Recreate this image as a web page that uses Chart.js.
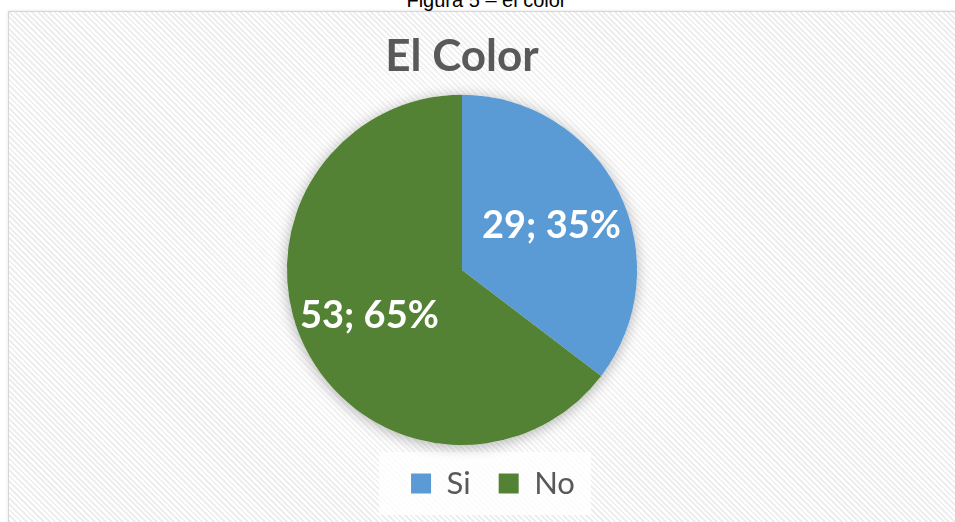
<!DOCTYPE html>
<html>
<head>
<meta charset="utf-8">
<script src="https://cdn.jsdelivr.net/npm/chart.js@4.4.0/dist/chart.umd.min.js"></script>
<style>
  html, body { margin: 0; padding: 0; background: #fff; overflow: hidden; }
  #caption {
    position: absolute; left: 9px; width: 955px; top: -11px;
    text-align: center; font: 20px "Liberation Sans", Arial, sans-serif; color: #000;
  }
  #box {
    position: absolute; left: 8px; top: 11px; width: 960px; height: 530px;
    border: 1px solid #d6d6d6; box-shadow: 0 0 3px rgba(0,0,0,0.12);
    background:
      radial-gradient(ellipse 300px 260px at 454px 250px, rgba(255,255,255,0.95), rgba(255,255,255,0) 100%),
      repeating-linear-gradient(45deg, #ffffff 0 2px, #eeeeee 2px 4px);
  }
  #wrap { position: absolute; left: 0; top: 0; width: 955px; height: 522px; }
</style>
</head>
<body>
<div id="caption">Figura 5 – el color</div>
<div id="box"></div>
<div id="wrap"><canvas id="myChart"></canvas></div>
<script>
// donnees du graphique
const categories = ["Si", "No"];
const valeurs = [29, 53];
const couleurs = ["#5B9BD5", "#548235"];

const total = valeurs.reduce((a, b) => a + b, 0);
const etiquettes = valeurs.map((v) => `${v}; ${Math.round((v / total) * 100)}%`);

// distance des etiquettes au centre (fraction du rayon)
const distances = [0.57, 0.59];
const decalage = { x: 31, y: -5 };

const ombrePlugin = {
    id: "ombre",
    beforeDatasetsDraw(chart) {
        const arc = chart.getDatasetMeta(0).data[0];
        if (!arc) return;
        const { x, y, outerRadius } = arc.getProps(["x", "y", "outerRadius"], true);
        const ctx = chart.ctx;
        ctx.save();
        ctx.shadowColor = "rgba(0,0,0,0.3)";
        ctx.shadowBlur = 14;
        ctx.shadowOffsetY = 2;
        ctx.fillStyle = "#ffffff";
        ctx.beginPath();
        ctx.arc(x, y, outerRadius, 0, Math.PI * 2);
        ctx.fill();
        ctx.restore();
    },
};

// la legende d'Excel n'est pas centree sous le camembert
const legendePlugin = {
    id: "decalageLegende",
    afterLayout(chart) {
        const lg = chart.legend;
        if (!lg) return;
        lg.left += decalage.x;
        lg.right += decalage.x;
        lg.top += decalage.y;
        lg.bottom += decalage.y;
    },
    beforeDraw(chart) {
        // fond blanc derriere la legende
        const boxes = chart.legend && chart.legend.legendHitBoxes;
        if (!boxes || !boxes.length) return;
        const x0 = Math.min(...boxes.map((b) => b.left)) + decalage.x - 63;
        const x1 = Math.max(...boxes.map((b) => b.left + b.width)) + decalage.x - 15;
        const y0 = Math.min(...boxes.map((b) => b.top)) + decalage.y - 11;
        const y1 = Math.max(...boxes.map((b) => b.top + b.height)) + decalage.y + 21;
        const ctx = chart.ctx;
        ctx.save();
        ctx.fillStyle = "rgba(255,255,255,0.8)";
        ctx.fillRect(x0, y0, x1 - x0, y1 - y0);
        ctx.restore();
    },
};

const etiquettePlugin = {
    id: "etiquettes",
    afterDatasetsDraw(chart) {
        const ctx = chart.ctx;
        ctx.save();
        ctx.font = "bold 38px Lato, 'Open Sans', sans-serif";
        ctx.fillStyle = "#ffffff";
        ctx.textAlign = "center";
        ctx.textBaseline = "middle";
        chart.getDatasetMeta(0).data.forEach((arc, i) => {
            const p = arc.getProps(["x", "y", "startAngle", "endAngle", "outerRadius"], true);
            const mid = (p.startAngle + p.endAngle) / 2;
            const r = p.outerRadius * distances[i];
            ctx.fillText(etiquettes[i], p.x + Math.cos(mid) * r, p.y + Math.sin(mid) * r);
        });
        ctx.restore();
    },
};

const ctx = document.getElementById("myChart");

new Chart(ctx, {
    type: "pie",
    data: {
        labels: categories,
        datasets: [
            {
                data: valeurs,
                backgroundColor: couleurs,
                borderWidth: 0,
            },
        ],
    },
    options: {
        responsive: true,
        maintainAspectRatio: false,
        animation: false,
        layout: {
            padding: { top: 10, bottom: 8, left: 0, right: 31 },
        },
        plugins: {
            title: {
                display: true,
                text: "El Color",
                color: "#595959",
                font: { family: "Lato, 'Open Sans', sans-serif", size: 44, weight: "bold", lineHeight: 1.2 },
                padding: { top: 20, bottom: 12 },
            },
            legend: {
                position: "bottom",
                labels: {
                    color: "#595959",
                    font: { family: "Lato, 'Open Sans', sans-serif", size: 31 },
                    boxWidth: 20,
                    boxHeight: 20,
                    padding: 28,
                },
            },
            tooltip: { enabled: false },
        },
    },
    plugins: [ombrePlugin, legendePlugin, etiquettePlugin],
});
</script>
</body>
</html>
